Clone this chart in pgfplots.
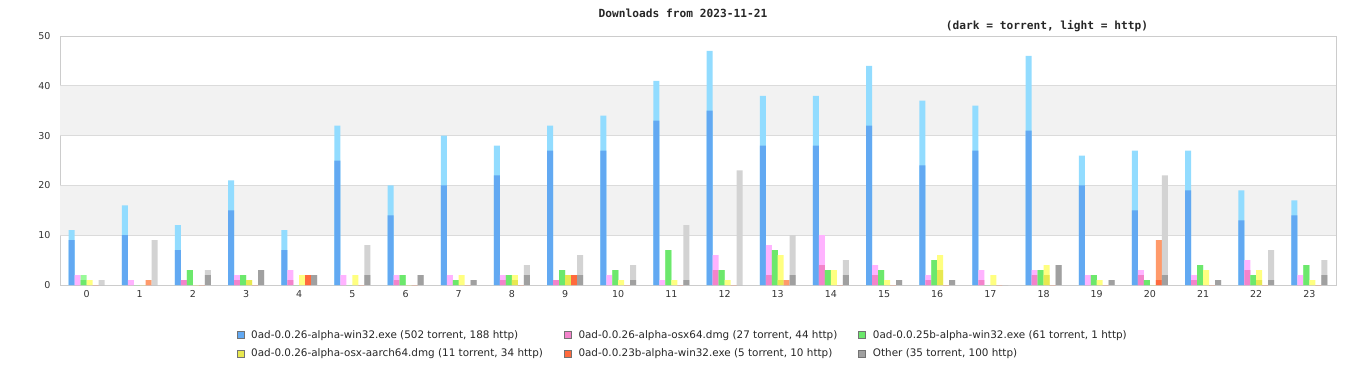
\documentclass[border=0pt]{standalone}
\usepackage{pgfplots}
\usepackage{pgfplotstable}
\pgfplotsset{compat=1.18}
\usepackage{fontspec}
\setmainfont{DejaVu Sans}
\newfontfamily\monofont{DejaVu Sans Mono}
\definecolor{bD}{HTML}{62A9F2}
\definecolor{bL}{HTML}{92DCFF}
\definecolor{pD}{HTML}{F383CB}
\definecolor{pL}{HTML}{FFB3FF}
\definecolor{gD}{HTML}{6CE86C}
\definecolor{gL}{HTML}{98FA98}
\definecolor{yD}{HTML}{E8E850}
\definecolor{yL}{HTML}{FFFF80}
\definecolor{oD}{HTML}{FF6A3D}
\definecolor{oL}{HTML}{FF9A6A}
\definecolor{kD}{HTML}{A0A0A0}
\definecolor{kL}{HTML}{D3D3D3}
% h: hour; t = torrent, a = total (torrent + http)
\pgfplotstableread{
h bt ba pt pa gt ga yt ya ot oa kt ka
0 9 11 0 2 1 2 0 1 0 0 0 1
1 10 16 0 1 0 0 0 0 0 1 0 9
2 7 12 1 1 3 3 0 0 0 0 2 3
3 15 21 1 2 2 2 1 1 0 0 3 3
4 7 11 1 3 0 0 0 2 2 2 2 2
5 25 32 0 2 0 0 0 2 0 0 2 8
6 14 20 1 2 2 2 0 0 0 0 2 2
7 20 30 0 2 1 1 0 2 0 0 1 1
8 22 28 1 2 2 2 1 2 0 0 2 4
9 27 32 1 1 3 3 2 2 2 2 2 6
10 27 34 0 2 3 3 0 1 0 0 1 4
11 33 41 0 1 7 7 0 1 0 0 1 12
12 35 47 3 6 3 3 0 1 0 0 0 23
13 28 38 2 8 7 7 1 6 0 1 2 10
14 28 38 4 10 3 3 0 3 0 0 2 5
15 32 44 2 4 3 3 0 1 0 0 1 1
16 24 37 1 2 5 5 3 6 0 0 1 1
17 27 36 1 3 0 0 0 2 0 0 0 0
18 31 46 2 3 3 3 2 4 0 0 4 4
19 20 26 0 2 2 2 0 1 0 0 1 1
20 15 27 2 3 1 1 0 0 1 9 2 22
21 19 27 1 2 4 4 0 3 0 0 1 1
22 13 19 3 5 2 2 1 3 0 0 1 7
23 14 17 0 2 4 4 0 1 0 0 2 5
}\dl
\pgfplotsset{
  mybar/.style={ybar, bar width=0.113, draw=none,
    legend image code/.code={\draw[##1,draw=black!55,line width=0.6pt] (0pt,-3.5pt) rectangle (7pt,3.5pt);}},
}
\begin{document}
\begin{tikzpicture}
\path[use as bounding box] (-60pt,-95pt) rectangle (1306pt,285pt);
\begin{axis}[
  at={(0pt,0pt)}, anchor=south west,
  scale only axis, width=1276pt, height=249pt,
  xmin=-0.5, xmax=23.5, ymin=0, ymax=50,
  xtick={0,...,23}, ytick={0,10,...,50},
  major tick length=0pt,
  axis line style={draw=black!20, line width=0.8pt},
  tick label style={font=\fontsize{9.5}{11}\selectfont, text=black!80},
  /pgf/number format/assume math mode=true,
  yticklabel style={xshift=-6pt},
  xticklabel style={yshift=-2pt},
  legend columns=3,
  legend cell align=left,
  legend style={at={(0.488,-0.165)}, anchor=north, draw=none, fill=none,
    font=\fontsize{10.4}{12}\selectfont, text=black!85, row sep=5pt,
    /tikz/every odd column/.append style={column sep=5pt},
    /tikz/every even column/.append style={column sep=19pt}},
]
\fill[black!5] (axis cs:-0.5,10) rectangle (axis cs:23.5,20);
\fill[black!5] (axis cs:-0.5,30) rectangle (axis cs:23.5,40);
\draw[black!14, line width=0.8pt] (axis cs:-0.5,10) -- (axis cs:23.5,10);
\draw[black!14, line width=0.8pt] (axis cs:-0.5,20) -- (axis cs:23.5,20);
\draw[black!14, line width=0.8pt] (axis cs:-0.5,30) -- (axis cs:23.5,30);
\draw[black!14, line width=0.8pt] (axis cs:-0.5,40) -- (axis cs:23.5,40);
\addplot[mybar, bar shift=-0.282, fill=bL, forget plot] table[x=h, y=ba] {\dl};
\addplot[mybar, bar shift=-0.282, fill=bD] table[x=h, y=bt] {\dl};
\addlegendentry{0ad-0.0.26-alpha-win32.exe (502 torrent, 188 http)}
\addplot[mybar, bar shift=-0.169, fill=pL, forget plot] table[x=h, y=pa] {\dl};
\addplot[mybar, bar shift=-0.169, fill=pD] table[x=h, y=pt] {\dl};
\addlegendentry{0ad-0.0.26-alpha-osx64.dmg (27 torrent, 44 http)}
\addplot[mybar, bar shift=-0.056, fill=gL, forget plot] table[x=h, y=ga] {\dl};
\addplot[mybar, bar shift=-0.056, fill=gD] table[x=h, y=gt] {\dl};
\addlegendentry{0ad-0.0.25b-alpha-win32.exe (61 torrent, 1 http)}
\addplot[mybar, bar shift=0.056, fill=yL, forget plot] table[x=h, y=ya] {\dl};
\addplot[mybar, bar shift=0.056, fill=yD] table[x=h, y=yt] {\dl};
\addlegendentry{0ad-0.0.26-alpha-osx-aarch64.dmg (11 torrent, 34 http)}
\addplot[mybar, bar shift=0.169, fill=oL, forget plot] table[x=h, y=oa] {\dl};
\addplot[mybar, bar shift=0.169, fill=oD] table[x=h, y=ot] {\dl};
\addlegendentry{0ad-0.0.23b-alpha-win32.exe (5 torrent, 10 http)}
\addplot[mybar, bar shift=0.282, fill=kL, forget plot] table[x=h, y=ka] {\dl};
\addplot[mybar, bar shift=0.282, fill=kD] table[x=h, y=kt] {\dl};
\addlegendentry{Other (35 torrent, 100 http)}
\end{axis}
\node[font=\monofont\bfseries\fontsize{11.2}{13}\selectfont, text=black!85] at (623pt,272pt) {Downloads from 2023-11-21};
\node[font=\monofont\bfseries\fontsize{11.2}{13}\selectfont, text=black!85] at (987pt,259pt) {(dark = torrent, light = http)};
\end{tikzpicture}
\end{document}
